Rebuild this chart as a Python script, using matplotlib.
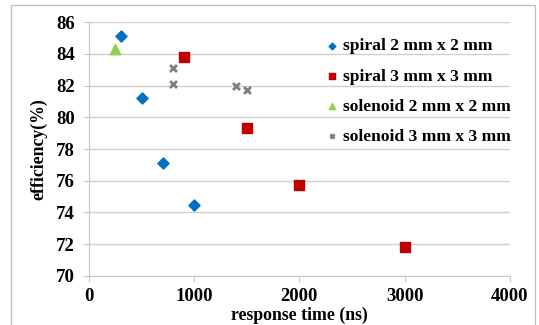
import matplotlib.pyplot as plt
from matplotlib.patches import Rectangle

# data
sp2_x = [300, 500, 700, 1000]
sp2_y = [85.1, 81.2, 77.1, 74.5]
sp3_x = [900, 1500, 2000, 3000]
sp3_y = [83.8, 79.3, 75.7, 71.8]
so2_x = [250]
so2_y = [84.3]
so3_x = [800, 800, 1400, 1500]
so3_y = [83.1, 82.1, 81.95, 81.75]

plt.rcParams['font.family'] = ['Liberation Serif', 'DejaVu Serif']
plt.rcParams['font.weight'] = 'bold'

fig = plt.figure(figsize=(5.39, 3.25), dpi=100)
ax = fig.add_axes([0.165, 0.151, 0.781, 0.781])

ax.scatter(sp2_x, sp2_y, marker='D', s=32, color='#0070c0', label='spiral 2 mm x 2 mm', zorder=3)
ax.scatter(sp3_x, sp3_y, marker='s', s=48, color='#c00000', label='spiral 3 mm x 3 mm', zorder=3)
ax.scatter(so2_x, so2_y, marker='^', s=55, color='#92d050', label='solenoid 2 mm x 2 mm', zorder=3)
ax.scatter(so3_x, so3_y, marker='x', s=25, color='#7f7f7f', linewidths=2, label='solenoid 3 mm x 3 mm', zorder=3)

ax.set_xlim(0, 4000)
ax.set_ylim(70, 86)
ax.set_xticks(range(0, 4001, 1000))
ax.set_yticks(range(70, 87, 2))
ax.grid(axis='y', color='#d0d0d0', linewidth=1)
ax.set_axisbelow(True)
for s in ['top', 'right']:
    ax.spines[s].set_visible(False)
for s in ['left', 'bottom']:
    ax.spines[s].set_color('#c8c8c8')
ax.tick_params(axis='both', colors='#c8c8c8', labelcolor='black', labelsize=13.5, length=4)
ax.tick_params(axis='x', pad=5)
ax.tick_params(axis='y', pad=6)
for lab in ax.get_xticklabels() + ax.get_yticklabels():
    lab.set_fontweight('bold')

ax.set_xlabel('response time (ns)', fontsize=12.8, fontweight='bold', labelpad=1)
ax.set_ylabel('efficiency(%)', fontsize=12.8, fontweight='bold', labelpad=6)

ax.legend(loc='upper left', bbox_to_anchor=(0.607, 0.883), bbox_transform=fig.transFigure,
          frameon=False, borderpad=0, borderaxespad=0,
          handletextpad=0.3, labelspacing=0.8, handlelength=0.6, markerscale=0.6,
          prop={'weight': 'bold', 'size': 12.6})

fig.patches.append(Rectangle((11 / 539, -0.01), 524 / 539, 1 - 5 / 325 + 0.01,
                             transform=fig.transFigure, fill=False,
                             edgecolor='#c0c0c0', linewidth=1))

fig.savefig('out.png', dpi=100)
